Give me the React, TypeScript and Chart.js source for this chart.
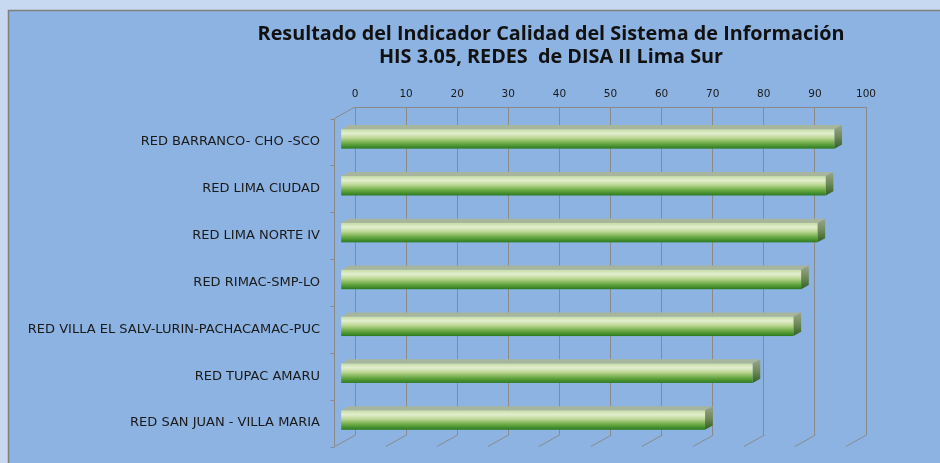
import React, { useEffect, useRef } from "react";
import { Chart, registerables } from "chart.js";
Chart.register(...registerables);

const categories = [
  "RED BARRANCO- CHO -SCO",
  "RED LIMA CIUDAD",
  "RED LIMA NORTE IV",
  "RED RIMAC-SMP-LO",
  "RED VILLA EL SALV-LURIN-PACHACAMAC-PUC",
  "RED TUPAC AMARU",
  "RED SAN JUAN - VILLA MARIA",
];
const values = [96.6, 94.9, 93.3, 90.1, 88.6, 80.6, 71.3];
const titleLines = [
  "Resultado del Indicador Calidad del Sistema de Información",
  "HIS 3.05, REDES  de DISA II Lima Sur",
];
const xMin = 0;
const xMax = 100;
const xStep = 10;

const W = 940;
const H = 463;
const GRID = "#8a8a8a";
// perspective offsets
const FRONT_DX = -20.6;
const FRONT_DY = 11.5;
const BAR_DX = -14.3;
const BAR_DY = 8.5;
const DEPTH_DX = 7.7;
const DEPTH_DY = -4.2;

const decorPlugin = {
  id: "decor",
  beforeDraw(chart: any) {
    const ctx = chart.ctx;
    ctx.save();
    ctx.fillStyle = "#c6d9f1";
    ctx.fillRect(0, 0, W, H);
    ctx.fillStyle = "#8db3e2";
    ctx.fillRect(8, 10, W - 8, H - 10);
    ctx.strokeStyle = "#7f7f7f";
    ctx.lineWidth = 1.5;
    ctx.beginPath();
    ctx.moveTo(8.5, H);
    ctx.lineTo(8.5, 10.5);
    ctx.lineTo(W, 10.5);
    ctx.stroke();
    // title
    ctx.fillStyle = "#111";
    ctx.font = "bold 19.8px 'Open Sans'";
    ctx.textAlign = "center";
    ctx.textBaseline = "middle";
    ctx.fillText(titleLines[0], 551, 34);
    ctx.fillText(titleLines[1], 551, 57);
    ctx.restore();
  },
  beforeDatasetsDraw(chart: any) {
    const ctx = chart.ctx;
    const xs = chart.scales.x;
    const area = chart.chartArea;
    ctx.save();
    ctx.strokeStyle = GRID;
    ctx.lineWidth = 1;
    // floor diagonals
    for (let v = xMin; v <= xMax; v += xStep) {
      const px = Math.round(xs.getPixelForValue(v)) + 0.5;
      ctx.beginPath();
      ctx.moveTo(px, area.bottom);
      ctx.lineTo(px + FRONT_DX, area.bottom + FRONT_DY);
      ctx.stroke();
    }
    // left wall
    const lx = Math.round(area.left + FRONT_DX) + 0.5;
    ctx.beginPath();
    ctx.moveTo(area.left, area.top);
    ctx.lineTo(lx, area.top + FRONT_DY);
    ctx.lineTo(lx, area.bottom + FRONT_DY);
    ctx.stroke();
    // tick marks at category boundaries
    const n = categories.length;
    const band = (area.bottom - area.top) / n;
    for (let i = 0; i <= n; i++) {
      const y = Math.round(area.top + band * i + FRONT_DY) + 0.5;
      ctx.beginPath();
      ctx.moveTo(lx - 4, y);
      ctx.lineTo(lx, y);
      ctx.stroke();
    }
    ctx.restore();
  },
  afterDatasetsDraw(chart: any) {
    const ctx = chart.ctx;
    const meta = chart.getDatasetMeta(0);
    ctx.save();
    meta.data.forEach((el: any) => {
      const p = el.getProps(["x", "y", "base", "height"], true);
      const x0 = p.base + BAR_DX;
      const x1 = p.x + BAR_DX;
      const yt = p.y + BAR_DY - p.height / 2;
      const yb = p.y + BAR_DY + p.height / 2;
      // top face
      ctx.fillStyle = "#a6b59b";
      ctx.beginPath();
      ctx.moveTo(x0, yt);
      ctx.lineTo(x1, yt);
      ctx.lineTo(x1 + DEPTH_DX, yt + DEPTH_DY);
      ctx.lineTo(x0 + DEPTH_DX, yt + DEPTH_DY);
      ctx.closePath();
      ctx.fill();
      // side face
      const sg = ctx.createLinearGradient(0, yt + DEPTH_DY, 0, yb);
      sg.addColorStop(0, "#9aa78a");
      sg.addColorStop(0.5, "#6f8a5a");
      sg.addColorStop(1, "#305f22");
      ctx.fillStyle = sg;
      ctx.beginPath();
      ctx.moveTo(x1, yt);
      ctx.lineTo(x1 + DEPTH_DX, yt + DEPTH_DY);
      ctx.lineTo(x1 + DEPTH_DX, yb + DEPTH_DY);
      ctx.lineTo(x1, yb);
      ctx.closePath();
      ctx.fill();
      // front face
      const fg = ctx.createLinearGradient(0, yt, 0, yb);
      fg.addColorStop(0, "#c6dca4");
      fg.addColorStop(0.22, "#e3eecf");
      fg.addColorStop(0.45, "#bcd793");
      fg.addColorStop(0.72, "#6dab46");
      fg.addColorStop(1, "#2a7a1e");
      ctx.fillStyle = fg;
      ctx.fillRect(x0, yt, x1 - x0, yb - yt);
    });
    ctx.restore();
  },
};

export default function App() {
  const ref = useRef<HTMLCanvasElement | null>(null);
  useEffect(() => {
    if (!ref.current) return;
    const chart = new Chart(ref.current, {
      type: "bar",
      data: {
        labels: categories,
        datasets: [
          {
            data: values,
            backgroundColor: "rgba(0,0,0,0)",
            borderWidth: 0,
            categoryPercentage: 1,
            barPercentage: 0.414,
          },
        ],
      },
      options: {
        indexAxis: "y",
        responsive: false,
        animation: false,
        events: [],
        layout: { padding: { left: 0, top: 0, right: W - 866, bottom: H - 435 } },
        plugins: { legend: { display: false }, tooltip: { enabled: false }, title: { display: false } },
        scales: {
          x: {
            position: "top",
            min: xMin,
            max: xMax,
            ticks: {
              stepSize: xStep,
              padding: 6,
              color: "#1a1a1a",
              font: { family: "'DejaVu Sans'", size: 10.5 },
            },
            grid: { color: GRID, lineWidth: 1, drawTicks: false, tickLength: 0 },
            border: { display: true, color: GRID, width: 1 },
            afterFit: (s: any) => {
              s.height = 107;
              s.paddingLeft = 0;
              s.paddingRight = 0;
              s.paddingTop = 0;
              s.paddingBottom = 0;
            },
          },
          y: {
            ticks: {
              padding: 35,
              labelOffset: FRONT_DY,
              color: "#1a1a1a",
              font: { family: "'DejaVu Sans'", size: 13 },
              autoSkip: false,
            },
            grid: { display: false, drawTicks: false, tickLength: 0 },
            border: { display: false },
            afterFit: (s: any) => {
              s.width = 355;
              s.paddingLeft = 0;
              s.paddingRight = 0;
              s.paddingTop = 0;
              s.paddingBottom = 0;
            },
          },
        },
      },
      plugins: [decorPlugin],
    });
    return () => chart.destroy();
  }, []);
  return (
    <div style={{ position: "absolute", left: 0, top: 0, width: W, height: H }}>
      <canvas ref={ref} width={W} height={H} style={{ display: "block", width: W, height: H }} />
    </div>
  );
}
